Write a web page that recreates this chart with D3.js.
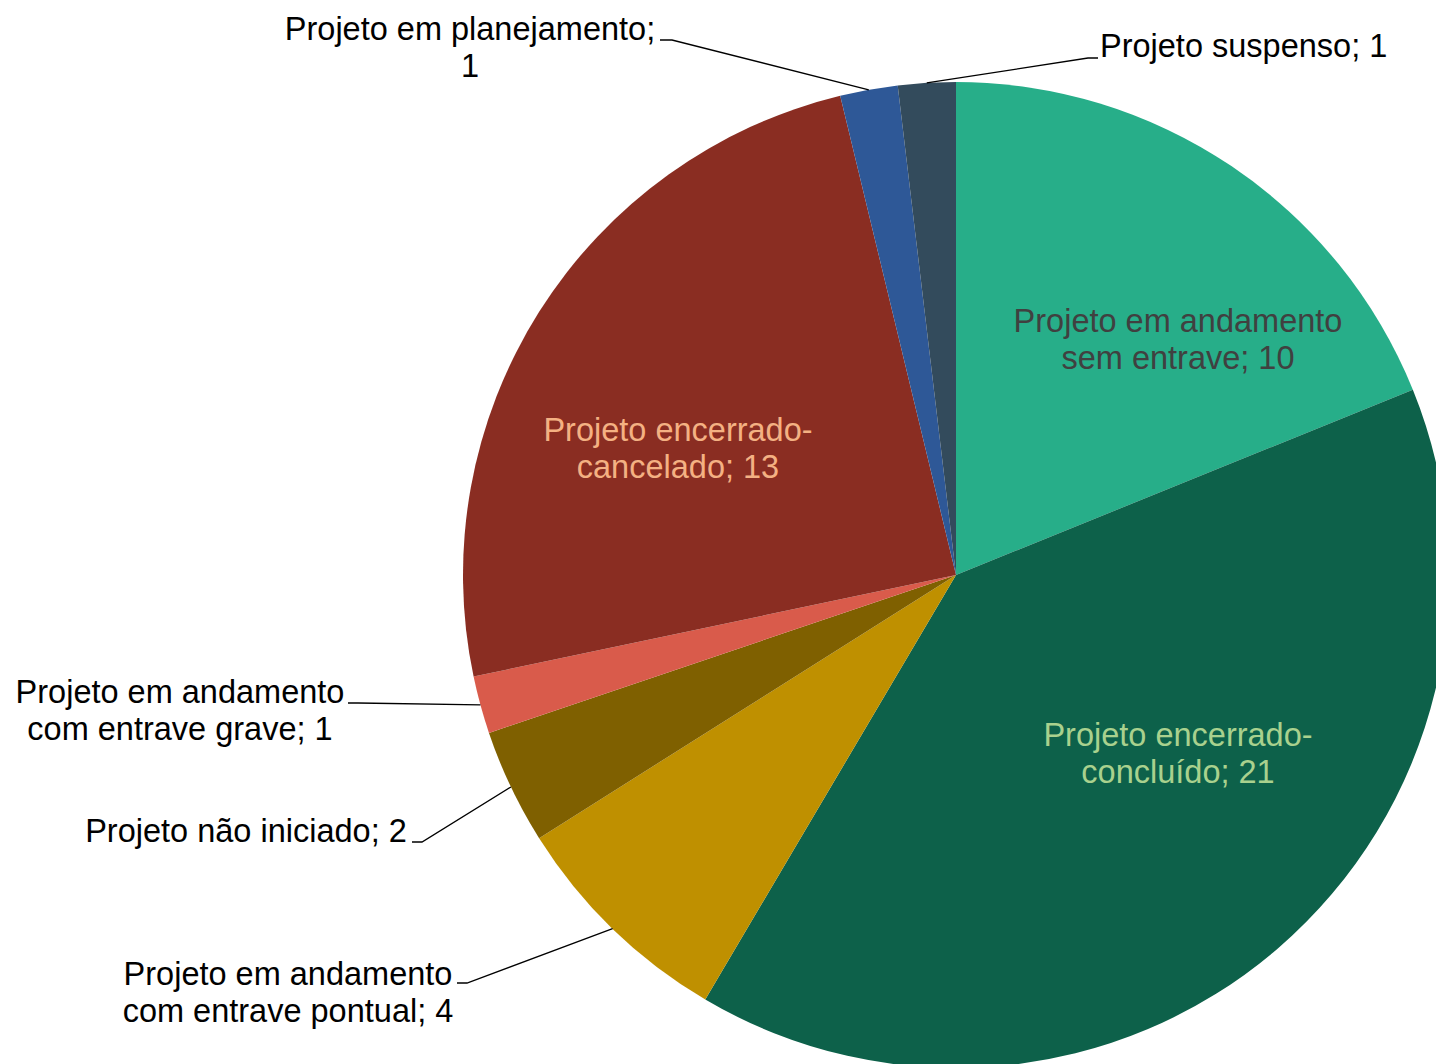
<!DOCTYPE html>
<html>
<head>
<meta charset="utf-8">
<script src="https://cdn.jsdelivr.net/npm/d3@7"></script>
<style>
  html, body { margin: 0; padding: 0; background: #ffffff; }
  svg { display: block; }
  text { font-family: "Liberation Sans", Arial, sans-serif; }
</style>
</head>
<body>
<svg id="chart" width="1436" height="1064"></svg>
<script>
// Project status counts, clockwise from 12 o'clock
const categories = [
  "Projeto em andamento sem entrave",
  "Projeto encerrado-concluído",
  "Projeto em andamento com entrave pontual",
  "Projeto não iniciado",
  "Projeto em andamento com entrave grave",
  "Projeto encerrado-cancelado",
  "Projeto em planejamento",
  "Projeto suspenso"
];
const values = [10, 21, 4, 2, 1, 13, 1, 1];

// Label lines as they are printed (line breaks follow the category text)
const labelLines = [
  ["Projeto em andamento", "sem entrave; 10"],
  ["Projeto encerrado-", "concluído; 21"],
  ["Projeto em andamento", "com entrave pontual; 4"],
  ["Projeto não iniciado; 2"],
  ["Projeto em andamento", "com entrave grave; 1"],
  ["Projeto encerrado-", "cancelado; 13"],
  ["Projeto em planejamento;", "1"],
  ["Projeto suspenso; 1"]
];

const sliceColors = ["#27ae89", "#0d614a", "#bf9000", "#7f6000", "#d95b4b", "#8a2d22", "#2e5897", "#334b5c"];

// Label placement: inside labels by offset from centre; outside labels by
// text anchor position plus an elbow point for the leader line.
const cx = 956, cy = 575, radius = 493;
const fontSize = 32.5, lineH = 37;

const placement = [
  { inside: true, dx: 222, dy: -236, color: "#404040" },
  { inside: true, dx: 222, dy: 178, color: "#a9d18e" },
  { inside: false, x: 288, y: 992, anchor: "middle", elbow: [467, 983], end: [457, 983] },
  { inside: false, x: 246, y: 831, anchor: "middle", elbow: [422, 842], end: [412, 842] },
  { inside: false, x: 180, y: 710, anchor: "middle", elbow: [358, 703], end: [348, 703] },
  { inside: true, dx: -278, dy: -127, color: "#f4b183" },
  { inside: false, x: 470, y: 47, anchor: "middle", elbow: [672, 40], end: [660, 40] },
  { inside: false, x: 1100, y: 46, anchor: "start", elbow: [1088, 58], end: [1098, 58] }
];

const data = categories.map((c, i) => ({ category: c, value: values[i], i }));

const svg = d3.select("#chart");
const g = svg.append("g").attr("transform", `translate(${cx},${cy})`);

const pie = d3.pie().value(d => d.value).sort(null);
const arc = d3.arc().innerRadius(0).outerRadius(radius);
const arcs = pie(data);

g.selectAll("path.slice")
  .data(arcs)
  .join("path")
  .attr("class", "slice")
  .attr("d", arc)
  .attr("fill", d => sliceColors[d.data.i]);

// Leader lines from each outer slice's arc midpoint
const edge = d3.arc().innerRadius(radius).outerRadius(radius);
arcs.forEach(a => {
  const p = placement[a.data.i];
  if (p.inside) return;
  const [mx, my] = edge.centroid(a);
  const pts = [[mx + cx, my + cy], p.elbow, p.end];
  svg.append("polyline")
    .attr("points", pts.map(q => q.join(",")).join(" "))
    .attr("fill", "none")
    .attr("stroke", "#000000")
    .attr("stroke-width", 1.3);
});

// Data labels
arcs.forEach(a => {
  const i = a.data.i;
  const p = placement[i];
  const lines = labelLines[i];
  const x = p.inside ? cx + p.dx : p.x;
  const y = p.inside ? cy + p.dy : p.y;
  const t = svg.append("text")
    .attr("text-anchor", p.inside ? "middle" : p.anchor)
    .attr("font-size", fontSize)
    .attr("fill", p.inside ? p.color : "#000000");
  const top = y - (lines.length - 1) * lineH / 2;
  lines.forEach((ln, k) => {
    t.append("tspan")
      .attr("x", x)
      .attr("y", top + k * lineH)
      .attr("dy", "0.35em")
      .text(ln);
  });
});
</script>
</body>
</html>
